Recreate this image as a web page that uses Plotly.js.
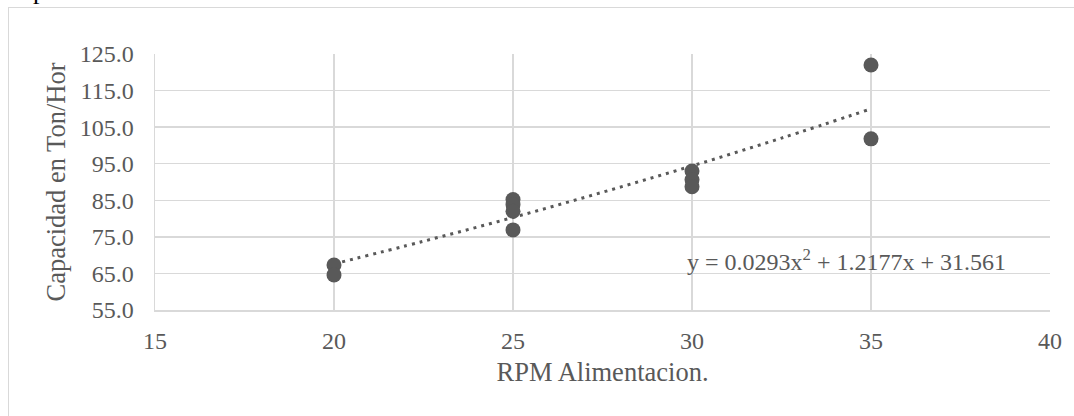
<!DOCTYPE html>
<html>
<head>
<meta charset="utf-8">
<script src="https://cdn.plot.ly/plotly-3.0.1.min.js"></script>
<style>
  html, body { margin: 0; padding: 0; background: #ffffff; overflow: hidden; }
  #wrap { position: relative; width: 1074px; height: 416px; overflow: hidden; }
  #frame { position: absolute; left: 8px; top: 7px; width: 1080px; height: 430px; border: 1px solid #d9d9d9; box-sizing: border-box; pointer-events: none; }
  #cut { position: absolute; left: 33px; top: -22px; font-family: "Liberation Serif", serif; font-size: 26px; color: #000; line-height: 26px; }
  #chart { position: absolute; left: 0; top: 0; width: 1074px; height: 416px; }
</style>
</head>
<body>
<div id="wrap">
  <div id="cut">p</div>
  <div id="frame"></div>
  <div id="chart"></div>
</div>
<script>
// Data
const rpm = [20, 20, 25, 25, 25, 25, 30, 30, 30, 35, 35];
const capacidad = [67.3, 64.6, 85.2, 83.8, 82.0, 76.9, 93.0, 90.6, 88.7, 122.0, 101.8];

// Dotted polynomial trendline
const trendX = [20, 22.5, 25, 27.5, 30, 32.5, 35];
const trendY = [67.6, 73.8, 80.3, 87.2, 94.4, 102.0, 110.0];

const equationText = "y = 0.0293x<sup>2</sup> + 1.2177x + 31.561";
const xTitle = "RPM Alimentacion.";
const yTitle = "Capacidad en Ton/Hor";

const grey = "#595959";
const gridC = "#d9d9d9";
const fontFam = "Liberation Serif, Times New Roman, serif";

const traces = [
  {
    x: trendX, y: trendY, type: "scatter", mode: "lines",
    line: { color: grey, width: 3, dash: "3px,5px", shape: "spline" },
    hoverinfo: "skip", showlegend: false
  },
  {
    x: rpm, y: capacidad, type: "scatter", mode: "markers",
    marker: { color: grey, size: 15 },
    showlegend: false
  }
];

const layout = {
  width: 1074, height: 416,
  margin: { l: 155, r: 24, t: 54, b: 106 },
  paper_bgcolor: "rgba(0,0,0,0)",
  plot_bgcolor: "#ffffff",
  font: { family: fontFam, color: grey },
  showlegend: false,
  xaxis: {
    range: [15, 40], dtick: 5, tick0: 15,
    showgrid: true, gridcolor: gridC, gridwidth: 1.5,
    showline: true, linecolor: gridC, linewidth: 1.5,
    zeroline: false, ticks: "", ticklabelstandoff: 9,
    tickfont: { family: fontFam, size: 24, color: grey },
    title: { text: xTitle, font: { family: fontFam, size: 26.5, color: grey }, standoff: 9 }
  },
  yaxis: {
    range: [55, 125], dtick: 10, tick0: 55, tickformat: ".1f",
    showgrid: true, gridcolor: gridC, gridwidth: 1.5,
    showline: true, linecolor: gridC, linewidth: 1.5,
    zeroline: false, ticks: "", ticklabelstandoff: 15,
    tickfont: { family: fontFam, size: 24, color: grey },
    title: { text: yTitle, font: { family: fontFam, size: 26.5, color: grey }, standoff: 6 }
  },
  annotations: [
    {
      x: 29.8, y: 68.7, xref: "x", yref: "y", xanchor: "left", yanchor: "middle",
      text: equationText, showarrow: false,
      font: { family: fontFam, size: 24, color: grey }
    }
  ]
};

Plotly.newPlot("chart", traces, layout, { displayModeBar: false, staticPlot: true });
</script>
</body>
</html>
